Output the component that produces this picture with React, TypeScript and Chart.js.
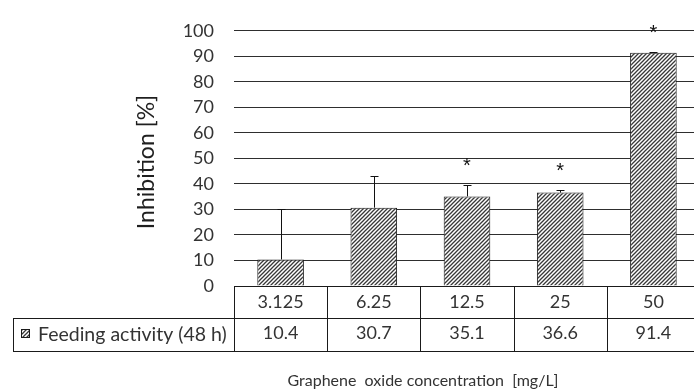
import { useEffect, useRef } from 'react';
import { Chart, registerables } from 'chart.js';

Chart.register(...registerables);

const categories = ['3.125', '6.25', '12.5', '25', '50'];
const seriesLabel = 'Feeding activity (48 h)';
const inhibition = [10.4, 30.7, 35.1, 36.6, 91.4];
const errorPlus = [19.6, 12.3, 4.4, 1.2, 0.3];
const significant = [false, false, true, true, true];
const yMin = 0;
const yMax = 100;
const yStep = 10;
const yTitle = 'Inhibition [%]';
const xTitle = 'Graphene  oxide concentration  [mg/L]';

const FONT = 'Lato, "Noto Sans", sans-serif';
const TEXT = '#333333';
const LINE = '#2e2e2e';

function makeHatch(ctx: CanvasRenderingContext2D) {
  const s = 4;
  const c = document.createElement('canvas');
  c.width = s;
  c.height = s;
  const g = c.getContext('2d')!;
  g.fillStyle = '#ffffff';
  g.fillRect(0, 0, s, s);
  g.strokeStyle = '#383838';
  g.lineWidth = 1.3;
  g.beginPath();
  g.moveTo(0, s);
  g.lineTo(s, 0);
  g.moveTo(-1, 1);
  g.lineTo(1, -1);
  g.moveTo(s - 1, s + 1);
  g.lineTo(s + 1, s - 1);
  g.stroke();
  return ctx.createPattern(c, 'repeat')!;
}

const h = (v: number) => Math.round(v) + 0.5;

export default function App() {
  const ref = useRef<HTMLCanvasElement | null>(null);

  useEffect(() => {
    const canvas = ref.current!;
    const ctx = canvas.getContext('2d')!;
    const hatch = makeHatch(ctx);

    const overlay = {
      id: 'overlay',
      afterDatasetsDraw(chart: any) {
        const c = chart.ctx as CanvasRenderingContext2D;
        const y = chart.scales.y;
        const meta = chart.getDatasetMeta(0);
        c.save();
        c.strokeStyle = '#111';
        c.lineWidth = 1;
        inhibition.forEach((v, i) => {
          const bar = meta.data[i];
          const x = h(bar.x);
          const top = h(y.getPixelForValue(v + errorPlus[i]));
          c.beginPath();
          c.moveTo(x, bar.y);
          c.lineTo(x, top);
          c.moveTo(x - 4, top);
          c.lineTo(x + 4, top);
          c.stroke();
          if (significant[i]) {
            c.fillStyle = '#111';
            c.font = '20px "Liberation Sans", Arial, sans-serif';
            c.textAlign = 'center';
            c.textBaseline = 'alphabetic';
            c.fillText('*', bar.x, top - 26 + 12);
          }
        });
        c.restore();
      },
      afterDraw(chart: any) {
        const c = chart.ctx as CanvasRenderingContext2D;
        const xs = chart.scales.x;
        const area = chart.chartArea;
        const n = categories.length;
        const bounds: number[] = [area.left];
        for (let i = 0; i < n - 1; i++) {
          bounds.push((xs.getPixelForValue(i) + xs.getPixelForValue(i + 1)) / 2);
        }
        bounds.push(area.right);
        const r1Top = area.bottom;
        const r1Bot = area.bottom + 32;
        const r2Bot = r1Bot + 33;
        const legendLeft = 13;

        c.save();
        c.strokeStyle = '#1a1a1a';
        c.lineWidth = 1;
        c.beginPath();
        c.moveTo(area.left, h(r1Top));
        c.lineTo(area.right + 20, h(r1Top));
        c.moveTo(legendLeft, h(r1Bot));
        c.lineTo(area.right + 20, h(r1Bot));
        c.moveTo(legendLeft, h(r2Bot));
        c.lineTo(area.right + 20, h(r2Bot));
        c.moveTo(h(legendLeft), h(r1Bot));
        c.lineTo(h(legendLeft), h(r2Bot));
        bounds.forEach((b) => {
          c.moveTo(h(b), h(r1Top));
          c.lineTo(h(b), h(r2Bot));
        });
        c.stroke();

        c.fillStyle = TEXT;
        c.textAlign = 'center';
        c.textBaseline = 'middle';
        c.font = `18px ${FONT}`;
        categories.forEach((cat, i) => {
          const cx = xs.getPixelForValue(i);
          c.fillText(cat, cx, (r1Top + r1Bot) / 2);
          c.fillText(inhibition[i].toFixed(1), cx, (r1Bot + r2Bot) / 2 - 1);
        });

        // legend key
        const kx = 21;
        const ky = 329;
        c.fillStyle = hatch;
        c.fillRect(kx, ky, 9, 9);
        c.strokeStyle = '#1a1a1a';
        c.strokeRect(kx + 0.5, ky + 0.5, 8, 8);
        c.fillStyle = TEXT;
        c.textAlign = 'left';
        c.font = `19.5px ${FONT}`;
        c.fillText(seriesLabel, 38, (r1Bot + r2Bot) / 2);

        // axis titles
        c.fillStyle = TEXT;
        c.textAlign = 'center';
        c.textBaseline = 'alphabetic';
        c.font = `16px ${FONT}`;
        c.fillText(xTitle, 423, 386);

        c.save();
        c.translate(147, 162);
        c.rotate(-Math.PI / 2);
        c.fillStyle = '#1f1f1f';
        c.textBaseline = 'middle';
        c.font = `23px ${FONT}`;
        c.fillText(yTitle, 0, 0);
        c.restore();
        c.restore();
      },
    };

    const chart = new Chart(canvas, {
      type: 'bar',
      data: {
        labels: categories,
        datasets: [
          {
            label: seriesLabel,
            data: inhibition,
            backgroundColor: hatch,
            borderColor: '#1a1a1a',
            borderWidth: 1,
            barPercentage: 0.5,
            categoryPercentage: 1,
          },
        ],
      },
      options: {
        responsive: false,
        animation: false,
        devicePixelRatio: 1,
        layout: { padding: { top: 26, bottom: 103, left: 0, right: 10 } },
        plugins: { legend: { display: false }, tooltip: { enabled: false } },
        scales: {
          x: { display: false },
          y: {
            min: yMin,
            max: yMax,
            afterFit: (scale: any) => {
              scale.width = 234;
            },
            border: { display: false },
            grid: { color: LINE, lineWidth: 1, drawTicks: false },
            ticks: {
              stepSize: yStep,
              padding: 20,
              color: TEXT,
              font: { family: FONT, size: 18 },
            },
          },
        },
      },
      plugins: [overlay],
    });
    return () => chart.destroy();
  }, []);

  return (
    <div
      style={{
        position: 'fixed',
        left: 0,
        top: 0,
        width: 694,
        height: 389,
        overflow: 'hidden',
        background: '#fff',
      }}
    >
      <canvas ref={ref} width={710} height={389} style={{ display: 'block' }} />
    </div>
  );
}
